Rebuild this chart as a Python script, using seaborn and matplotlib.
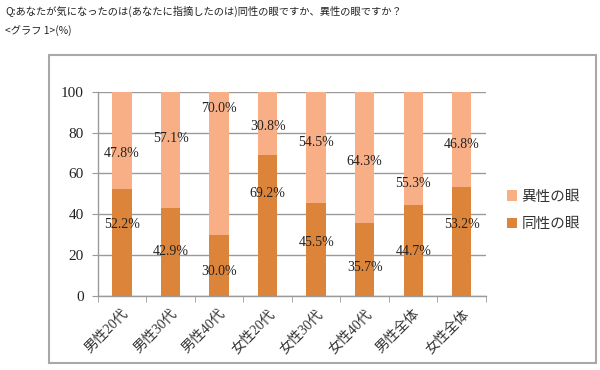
import pandas as pd
import numpy as np
import seaborn as sns
import matplotlib.pyplot as plt
from matplotlib.patches import Rectangle

# 値（%）
groups = ['男性20代', '男性30代', '男性40代', '女性20代', '女性30代', '女性40代', '男性全体', '女性全体']
same_sex = [52.2, 42.9, 30.0, 69.2, 45.5, 35.7, 44.7, 53.2]
other_sex = [47.8, 57.1, 70.0, 30.8, 54.5, 64.3, 55.3, 46.8]

# ラベルの高さ（元のグラフの配置に合わせる）
same_label_y = [35, 22, 12, 50, 26, 14, 22, 35]
other_label_y = [70, 77, 92, 83, 75, 66, 55, 74]

df = pd.DataFrame({'区分': groups, '同性の眼': same_sex, '異性の眼': other_sex})
df['合計'] = df['同性の眼'] + df['異性の眼']

sns.set_style('white')
num_font = ['Liberation Serif', 'Noto Sans CJK JP']
jp_font = ['Noto Sans CJK JP', 'DejaVu Sans']
plt.rcParams['font.family'] = num_font

c_dark = '#DC8439'
c_light = '#F8AF86'
gray = '#9a9a9a'

fig = plt.figure(figsize=(6, 3.7), dpi=100)
ax = fig.add_axes([0.163, 0.2, 0.647, 0.552])

sns.barplot(data=df, x='区分', y='合計', color=c_light, width=0.4, ax=ax,
            saturation=1, label='異性の眼', zorder=3, linewidth=0)
sns.barplot(data=df, x='区分', y='同性の眼', color=c_dark, width=0.4, ax=ax,
            saturation=1, label='同性の眼', zorder=3, linewidth=0)

for i in range(len(groups)):
    ax.text(i, same_label_y[i], f'{same_sex[i]:.1f}%', ha='center', va='center',
            fontsize=10, color='#222222', zorder=4)
    ax.text(i, other_label_y[i], f'{other_sex[i]:.1f}%', ha='center', va='center',
            fontsize=10, color='#222222', zorder=4)

ax.set_ylim(0, 100)
ax.set_xlim(-0.5, len(groups) - 0.5)
ax.set_yticks(np.arange(0, 101, 20))
ax.set_xlabel('')
ax.set_ylabel('')
ax.grid(axis='y', color=gray, linewidth=1, zorder=0)
for s in ['top', 'right']:
    ax.spines[s].set_visible(False)
for s in ['left', 'bottom']:
    ax.spines[s].set_color(gray)
    ax.spines[s].set_linewidth(1)

ax.tick_params(axis='y', length=4, color=gray, labelsize=11, pad=6, direction='out', left=True,
               labelcolor='#222222')
ax.set_xticks(np.arange(-0.5, len(groups), 1), minor=True)
ax.tick_params(axis='x', which='minor', length=4, color=gray, direction='out', bottom=True)
ax.tick_params(axis='x', which='major', length=0, pad=8)
ax.set_xticks(range(len(groups)))
ax.set_xticklabels(groups, rotation=45, ha='right', rotation_mode='anchor',
                   fontsize=10, family=num_font, color='#333333')

handles, labels = ax.get_legend_handles_labels()
leg = ax.legend(handles, labels, loc='center left', bbox_to_anchor=(1.02, 0.42),
                frameon=False, handlelength=0.7, handleheight=0.7, handletextpad=0.3,
                labelspacing=0.9, prop={'family': jp_font, 'size': 10.5})
for t in leg.get_texts():
    t.set_color('#333333')

# 外枠
fig.patches.append(Rectangle((49 / 600, 1 - 363 / 370), 547 / 600, 308 / 370,
                             transform=fig.transFigure, fill=False,
                             edgecolor='#a8a8a8', linewidth=1.5))

fig.text(5 / 600, 1 - 11 / 370, 'Q:あなたが気になったのは(あなたに指摘したのは)同性の眼ですか、異性の眼ですか？',
         ha='left', va='center', fontsize=7.4, family=jp_font, color='#222222')
fig.text(5 / 600, 1 - 31 / 370, '<グラフ 1>(%)', ha='left', va='center',
         fontsize=7.4, family=jp_font, color='#222222')

fig.savefig('out.png', dpi=100)
